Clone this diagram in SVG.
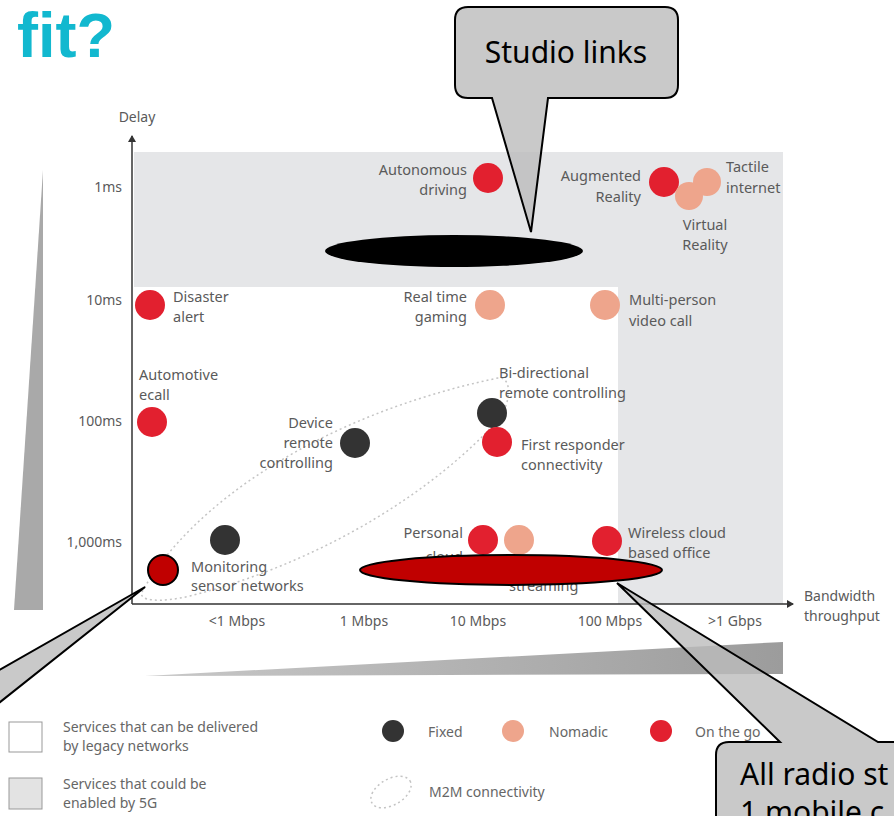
<svg xmlns="http://www.w3.org/2000/svg" width="894" height="816" viewBox="0 0 894 816">
<style>
.lbl{font-family:"Noto Sans","Open Sans",sans-serif;font-size:14.5px;fill:#5a5a5a}
.tick{font-family:"Noto Sans","Open Sans",sans-serif;font-size:14px;fill:#5a5a5a}
.leg{font-family:"Noto Sans","Open Sans",sans-serif;font-size:14px;fill:#666}
.end{text-anchor:end}
.mid{text-anchor:middle}
.on{fill:#e2202f}
.nom{fill:#eea58c}
.fix{fill:#333}
.call{fill:#bcbcbc;fill-opacity:0.8;stroke:#000;stroke-width:2;stroke-linejoin:miter}
.ctext{font-family:"Noto Sans","Open Sans",sans-serif;font-size:30px;fill:#000}
</style>
<defs>
<marker id="arr" markerWidth="8" markerHeight="8" refX="6" refY="4" orient="auto" markerUnits="userSpaceOnUse">
<path d="M0,0 L7,4 L0,8 Z" fill="#333"/>
</marker>
<linearGradient id="hw" x1="0" y1="0" x2="1" y2="0">
<stop offset="0" stop-color="#c8c8c8"/>
<stop offset="1" stop-color="#9c9c9c"/>
</linearGradient>
</defs>
<rect width="894" height="816" fill="#fff"/>
<text x="17" y="57" font-family="Liberation Sans, Arial, sans-serif" font-weight="bold" font-size="63" fill="#12b8cf">fit?</text>

<g id="regions">
<path d="M134,152 H783 V604 H618 V287 H134 Z" fill="#e5e6e8"/>
<polygon points="43,170 43,610 14,610" fill="#a9a9a9"/>
<polygon points="145,676 783,642 783,674" fill="url(#hw)"/>
</g>

<g id="axes" stroke="#333" stroke-width="1.5" fill="none">
<line x1="132" y1="604" x2="132" y2="136" marker-end="url(#arr)"/>
<line x1="132" y1="604" x2="793" y2="604" marker-end="url(#arr)"/>
</g>
<g id="axis-labels">
<text class="tick mid" x="137" y="122">Delay</text>
<text class="tick end" x="122" y="192">1ms</text>
<text class="tick end" x="122" y="305">10ms</text>
<text class="tick end" x="122" y="426">100ms</text>
<text class="tick end" x="122" y="547">1,000ms</text>
<text class="tick mid" x="237" y="626">&lt;1 Mbps</text>
<text class="tick mid" x="364" y="626">1 Mbps</text>
<text class="tick mid" x="478" y="626">10 Mbps</text>
<text class="tick mid" x="610" y="626">100 Mbps</text>
<text class="tick mid" x="735" y="626">&gt;1 Gbps</text>
<text class="tick" x="804" y="601">Bandwidth</text>
<text class="tick" x="804" y="621">throughput</text>
</g>

<g id="m2m">
<path d="M142,592 C190,505 320,415 498,378 C512,376 512,402 498,420 C440,485 330,560 190,596 C160,603 138,601 142,592 Z" fill="none" stroke="#c4c4c4" stroke-width="1.5" stroke-dasharray="2 3"/>
</g>

<g id="autonomous-driving"><circle class="on" cx="488" cy="178" r="15"/><text class="lbl end" x="467" y="175">Autonomous</text><text class="lbl end" x="467" y="195">driving</text></g>
<g id="augmented-reality"><circle class="on" cx="664" cy="182" r="15"/><text class="lbl end" x="641" y="181">Augmented</text><text class="lbl end" x="641" y="202">Reality</text></g>
<g id="virtual-reality"><circle class="nom" cx="689" cy="196" r="14"/><text class="lbl mid" x="705" y="230">Virtual</text><text class="lbl mid" x="705" y="250">Reality</text></g>
<g id="tactile-internet"><circle class="nom" cx="707" cy="182" r="14"/><text class="lbl" x="726" y="172">Tactile</text><text class="lbl" x="726" y="193">internet</text></g>
<g id="disaster-alert"><circle class="on" cx="150" cy="305" r="15"/><text class="lbl" x="173" y="302">Disaster</text><text class="lbl" x="173" y="322">alert</text></g>
<g id="real-time-gaming"><circle class="nom" cx="490" cy="305" r="15"/><text class="lbl end" x="467" y="302">Real time</text><text class="lbl end" x="467" y="322">gaming</text></g>
<g id="multi-person-video-call"><circle class="nom" cx="605" cy="305" r="15"/><text class="lbl" x="629" y="305">Multi-person</text><text class="lbl" x="629" y="326">video call</text></g>
<g id="automotive-ecall"><circle class="on" cx="152" cy="422" r="15"/><text class="lbl" x="139" y="380">Automotive</text><text class="lbl" x="139" y="400">ecall</text></g>
<g id="device-remote-controlling"><circle class="fix" cx="355" cy="443" r="15"/><text class="lbl end" x="333" y="428">Device</text><text class="lbl end" x="333" y="448">remote</text><text class="lbl end" x="333" y="468">controlling</text></g>
<g id="bi-directional-remote-controlling"><circle class="fix" cx="492" cy="413" r="15"/><text class="lbl" x="499" y="378">Bi-directional</text><text class="lbl" x="499" y="398">remote controlling</text></g>
<g id="first-responder-connectivity"><circle class="on" cx="497" cy="442" r="15"/><text class="lbl" x="521" y="450">First responder</text><text class="lbl" x="521" y="470">connectivity</text></g>
<g id="monitoring-sensor-networks"><circle class="fix" cx="225" cy="540" r="15"/><text class="lbl" x="191" y="572">Monitoring</text><text class="lbl" x="191" y="591">sensor networks</text></g>
<g id="personal-cloud"><circle class="on" cx="483" cy="540" r="15"/><circle class="nom" cx="519" cy="540" r="15"/><text class="lbl end" x="463" y="538">Personal</text><text class="lbl end" x="463" y="562">cloud</text></g>
<g id="wireless-cloud-based-office"><circle class="on" cx="607" cy="541" r="15"/><text class="lbl" x="628" y="538">Wireless cloud</text><text class="lbl" x="628" y="558">based office</text></g>
<g id="streaming"><text class="lbl" x="509" y="591">streaming</text></g>

<g id="legend">
<rect x="9" y="722" width="33" height="30" fill="#fff" stroke="#999" stroke-width="1"/>
<text class="leg" x="63" y="732">Services that can be delivered</text>
<text class="leg" x="63" y="751">by legacy networks</text>
<rect x="9" y="778" width="33" height="31" fill="#e3e3e3" stroke="#999" stroke-width="1"/>
<text class="leg" x="63" y="789">Services that could be</text>
<text class="leg" x="63" y="808">enabled by 5G</text>
<circle class="fix" cx="393" cy="731" r="11"/>
<text class="leg" x="428" y="737">Fixed</text>
<circle class="nom" cx="513" cy="731" r="11"/>
<text class="leg" x="549" y="737">Nomadic</text>
<circle class="on" cx="661" cy="731" r="11"/>
<text class="leg" x="695" y="737">On the go</text>
<ellipse cx="391" cy="792" rx="22" ry="13" transform="rotate(-30 391 792)" fill="none" stroke="#c4c4c4" stroke-width="1.5" stroke-dasharray="2 3"/>
<text class="leg" x="429" y="797">M2M connectivity</text>
</g>

<g id="highlights">
<ellipse cx="454" cy="251" rx="129" ry="16" fill="#000"/>
<ellipse cx="511" cy="570" rx="151" ry="15" fill="#c00000" stroke="#000" stroke-width="2"/>
<circle cx="163" cy="570" r="15" fill="#c00000" stroke="#000" stroke-width="2"/>
</g>

<g id="callouts">
<g id="studio-links">
<path class="call" d="M468,7 H665 Q678,7 678,20 V85 Q678,98 665,98 H548 L531,232 L492,98 H468 Q455,98 455,85 V20 Q455,7 468,7 Z"/>
<text class="ctext mid" x="566" y="63">Studio links</text>
</g>
<g id="monitoring-callout">
<path class="call" d="M-20,681 L145,587 L-20,718 Z"/>
</g>
<g id="radio-callout">
<path class="call" d="M716,755 Q716,742 729,742 H780 L617,583 L878,742 H920 V860 H716 Z"/>
<text class="ctext" x="740" y="785">All radio st</text>
<text class="ctext" x="740" y="823">1 mobile c</text>
</g>
</g>
</svg>
